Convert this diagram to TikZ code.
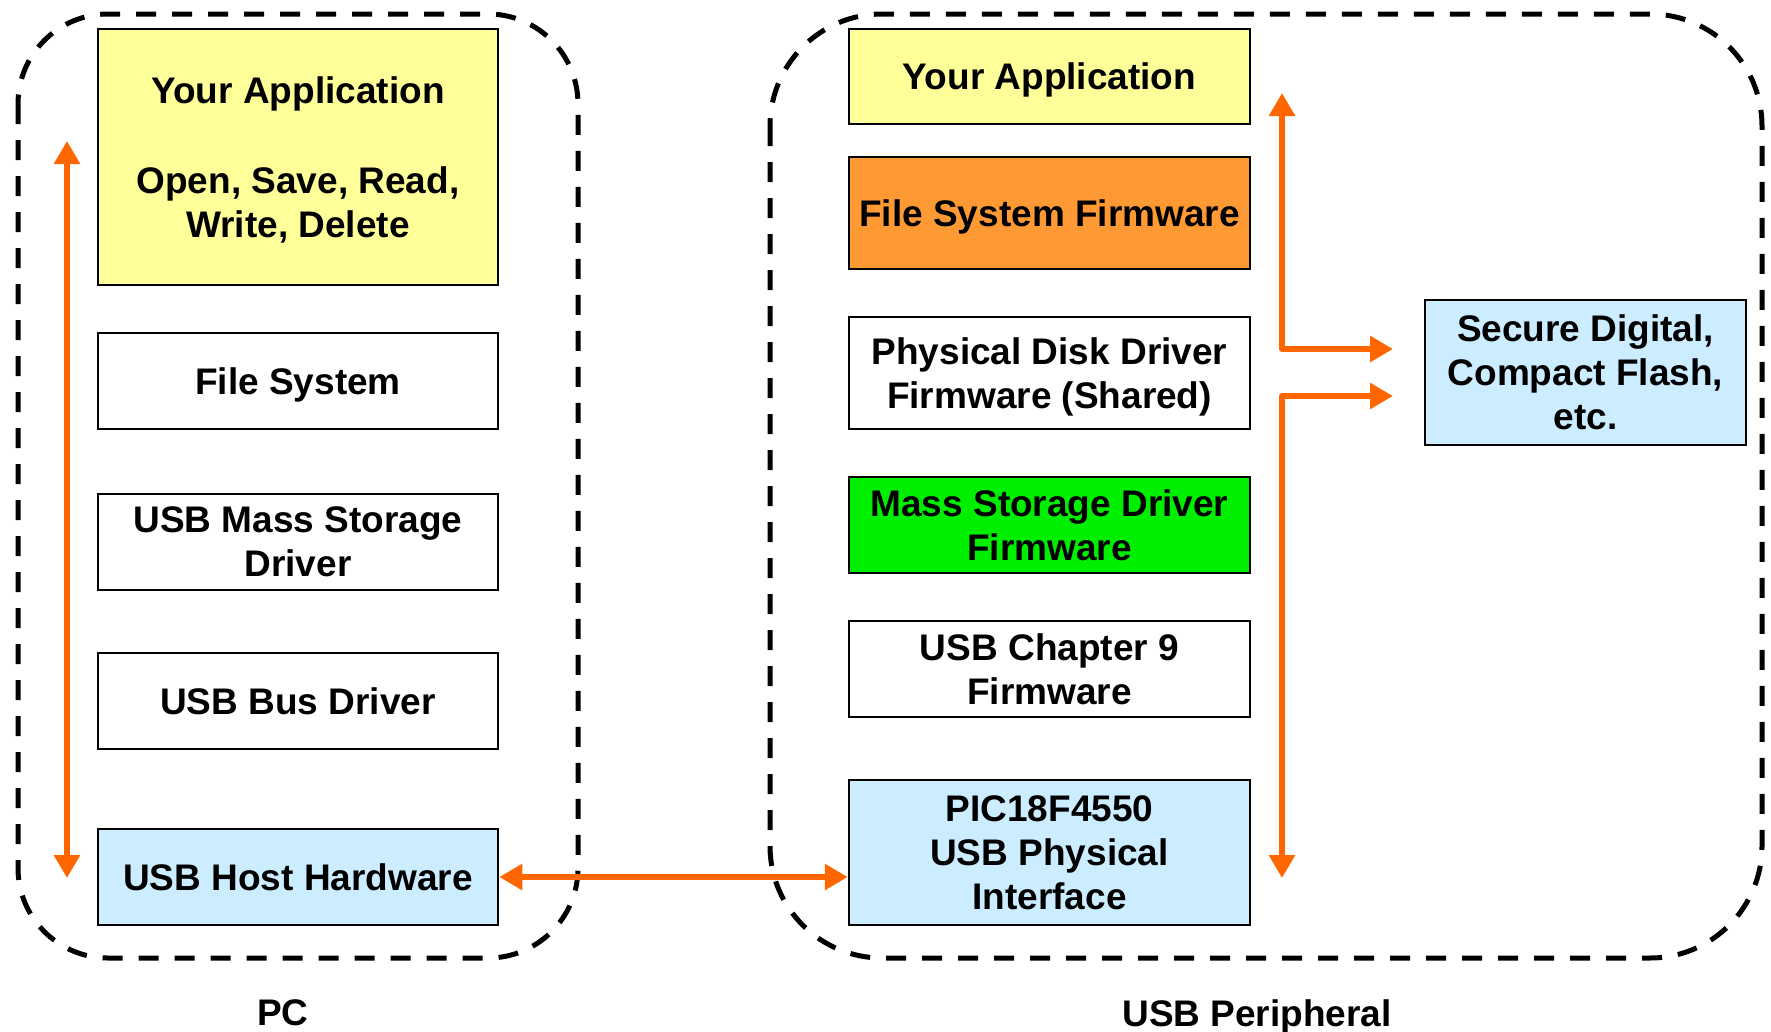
\documentclass[tikz,border=0pt]{standalone}
\usepackage{fontspec}
\setmainfont{Liberation Sans}
\usetikzlibrary{arrows.meta}
\definecolor{appyellow}{HTML}{FFFF99}
\definecolor{fsorange}{HTML}{FF9933}
\definecolor{msgreen}{HTML}{00EE00}
\definecolor{hwblue}{HTML}{CCECFF}
\definecolor{linkorange}{HTML}{FF6600}
\begin{document}
\begin{tikzpicture}[x=1pt,y=-1pt,
  layer/.style={draw=black,line width=2.5pt,fill=white,rectangle,inner sep=0pt,
    text depth=0pt,align=center,font=\fontsize{37}{44}\selectfont\bfseries},
  leftlayer/.style={layer,minimum width=400pt},
  rightlayer/.style={layer,minimum width=401pt},
  group/.style={draw=black,line width=5pt,dash pattern=on 20pt off 16pt},
  link/.style={draw=linkorange,line width=6pt,line join=round,
    -{Triangle[length=23pt,width=25pt]}},
  twoway/.style={link,{Triangle[length=23pt,width=25pt]}-{Triangle[length=23pt,width=25pt]}},
  caption/.style={font=\fontsize{37}{44}\selectfont\bfseries,inner sep=0pt,text depth=0pt}]
\useasboundingbox (0,0) rectangle (1771,1031);

% host and device groups
\draw[group,rounded corners=90pt] (18,14) rectangle (578,958);
\draw[group,rounded corners=112pt] (770,14) rectangle (1762,958);

% PC stack
\node[leftlayer,fill=appyellow,minimum height=256pt] (lapp) at (298,157)
  {Your Application\\[46pt]Open, Save, Read,\\Write, Delete};
\node[leftlayer,minimum height=96pt] (lfs) at (298,381) {File System};
\node[leftlayer,minimum height=96pt] (lmsd) at (298,542) {USB Mass Storage\\Driver};
\node[leftlayer,minimum height=96pt] (lbus) at (298,701) {USB Bus Driver};
\node[leftlayer,fill=hwblue,minimum height=96pt] (lhost) at (298,877) {USB Host Hardware};

% peripheral stack
\node[rightlayer,fill=appyellow,minimum height=95pt] (rapp) at (1049.5,76.5) {Your Application};
\node[rightlayer,fill=fsorange,minimum height=112pt] (rfs) at (1049.5,213) {File System Firmware};
\node[rightlayer,minimum height=112pt] (rpdd) at (1049.5,373) {Physical Disk Driver\\Firmware (Shared)};
\node[rightlayer,fill=msgreen,minimum height=96pt] (rmsd) at (1049.5,525) {Mass Storage Driver\\Firmware};
\node[rightlayer,minimum height=96pt] (rch9) at (1049.5,669) {USB Chapter 9\\Firmware};
\node[rightlayer,fill=hwblue,minimum height=145pt] (rpic) at (1049.5,852.5)
  {PIC18F4550\\USB Physical\\Interface};

% storage media
\node[layer,fill=hwblue,minimum width=321pt,minimum height=145pt] (sd) at (1585.5,372.5)
  {Secure Digital,\\Compact Flash,\\etc.};

% group captions
\node[caption] (pc) at (283,1013) {PC};
\node[caption] (periph) at (1257,1013) {USB Peripheral};

% data paths
\coordinate (ltop) at (67,141);
\coordinate (lbot) at (67,878);
\draw[twoway] (ltop) -- (lbot);
\draw[twoway] (lhost.east) -- (lhost.east -| rpic.west);

\coordinate (rtop) at (1282,93);
\coordinate (rjoinA) at (1282,349);
\coordinate (rjoinB) at (1282,396);
\coordinate (rbot) at (1282,878);
\coordinate (sdinA) at (1393,349);
\coordinate (sdinB) at (1393,396);
\draw[twoway] (rtop) -- (rjoinA) -- (sdinA);
\draw[twoway] (rbot) -- (rjoinB) -- (sdinB);
\end{tikzpicture}
\end{document}
